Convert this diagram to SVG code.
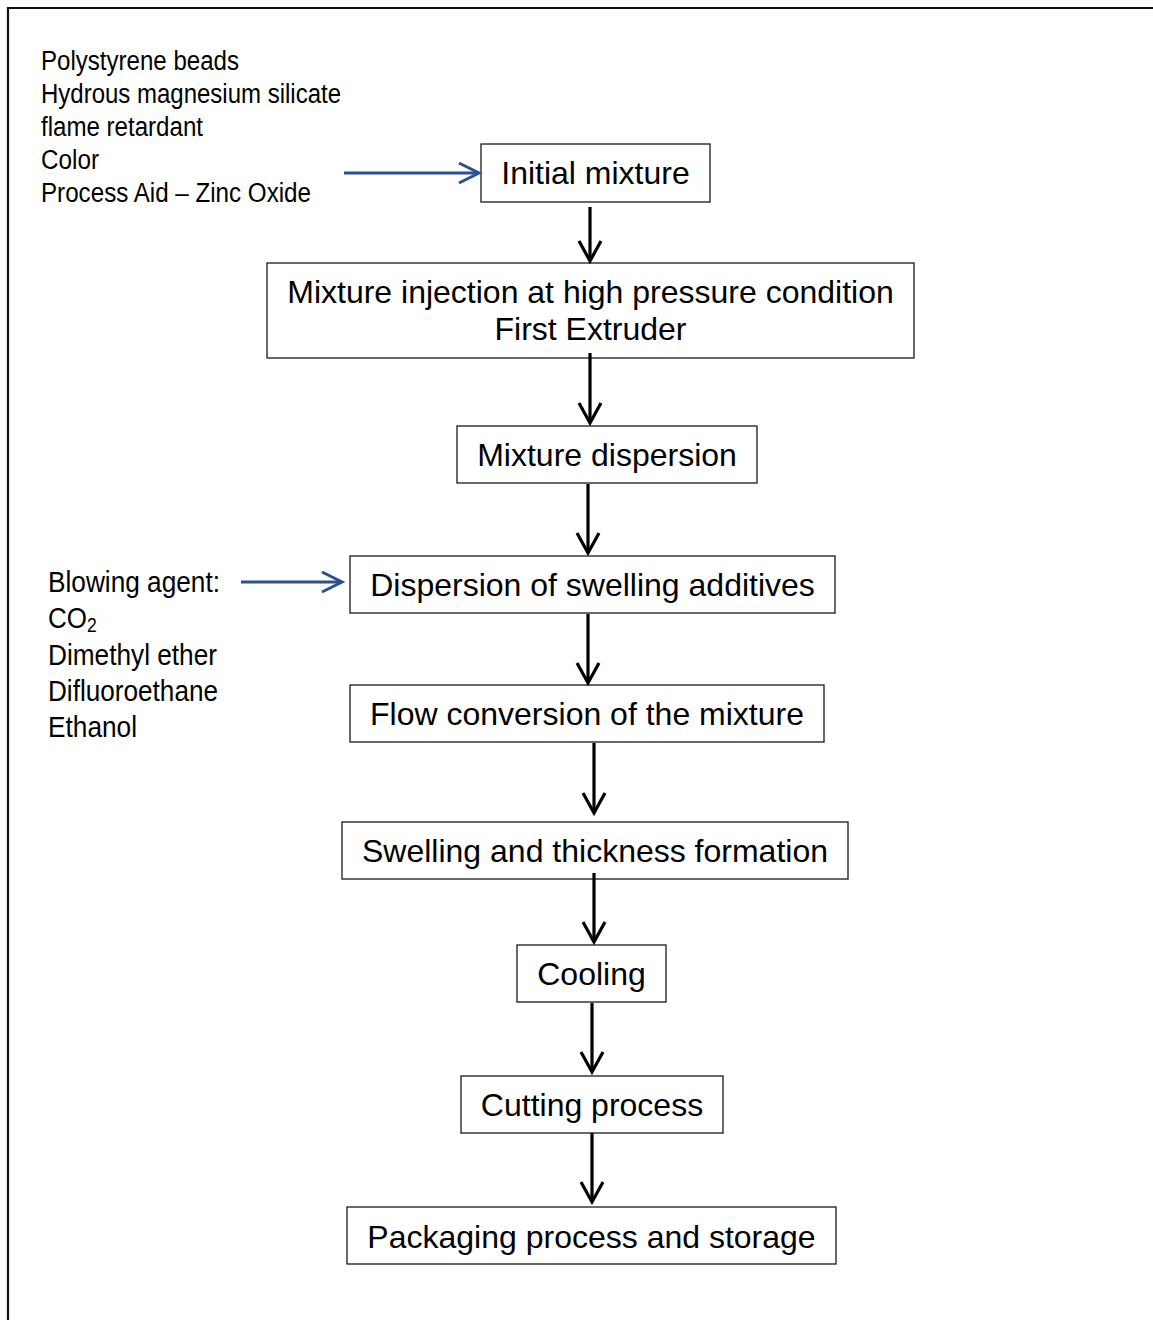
<svg xmlns="http://www.w3.org/2000/svg" width="1153" height="1320" viewBox="0 0 1153 1320">
<style>
  .box rect { fill: #fff; stroke: #1a1a1a; stroke-width: 1.3; }
  .box text { font-family: "Liberation Sans", Arial, sans-serif; font-size: 32px; fill: #000; text-anchor: middle; }
  .side { font-family: "Liberation Sans", Arial, sans-serif; font-size: 27px; fill: #000; }
  .side2 { font-family: "Liberation Sans", Arial, sans-serif; font-size: 29.5px; fill: #000; }
  .flow { stroke: #000; stroke-width: 3.2; fill: none; marker-end: url(#ah); }
  .feed { stroke: #2a5189; stroke-width: 3; fill: none; marker-end: url(#ahb); }
</style>
<defs>
  <marker id="ah" markerUnits="userSpaceOnUse" orient="auto" markerWidth="30" markerHeight="30" refX="0" refY="0" viewBox="-25 -15 30 30" overflow="visible">
    <path d="M -20 -11 L 0 0 L -20 11" fill="none" stroke="#000" stroke-width="3.2"/>
  </marker>
  <marker id="ahb" markerUnits="userSpaceOnUse" orient="auto" markerWidth="30" markerHeight="30" refX="0" refY="0" viewBox="-25 -15 30 30" overflow="visible">
    <path d="M -20 -10 L 0 0 L -20 10" fill="none" stroke="#2a5189" stroke-width="3"/>
  </marker>
</defs>
<rect width="1153" height="1320" fill="#fff"/>
<g id="frame">
  <path d="M 8 1320 L 8 8 L 1153 8" fill="none" stroke="#111" stroke-width="2.2"/>
</g>

<g id="inputs1">
  <text class="side" x="41" y="70" textLength="198" lengthAdjust="spacingAndGlyphs">Polystyrene beads</text>
  <text class="side" x="41" y="103" textLength="300" lengthAdjust="spacingAndGlyphs">Hydrous magnesium silicate</text>
  <text class="side" x="41" y="136" textLength="162" lengthAdjust="spacingAndGlyphs">flame retardant</text>
  <text class="side" x="41" y="169" textLength="58" lengthAdjust="spacingAndGlyphs">Color</text>
  <text class="side" x="41" y="202" textLength="270" lengthAdjust="spacingAndGlyphs">Process Aid – Zinc Oxide</text>
</g>

<g id="inputs2">
  <text class="side2" x="48" y="592" textLength="172" lengthAdjust="spacingAndGlyphs">Blowing agent:</text>
  <text class="side2" transform="translate(48,628) scale(0.88,1)" x="0" y="0">CO<tspan font-size="20" dy="4">2</tspan></text>
  <text class="side2" x="48" y="665" textLength="169" lengthAdjust="spacingAndGlyphs">Dimethyl ether</text>
  <text class="side2" x="48" y="701" textLength="170" lengthAdjust="spacingAndGlyphs">Difluoroethane</text>
  <text class="side2" x="48" y="737" textLength="89" lengthAdjust="spacingAndGlyphs">Ethanol</text>
</g>

<g id="n1" class="box"><rect x="481" y="144" width="229" height="58"/><text x="595.5" y="184">Initial mixture</text></g>
<g id="n2" class="box"><rect x="267" y="263" width="647" height="95"/><text x="590.5" y="303">Mixture injection at high pressure condition</text><text x="590.5" y="340">First Extruder</text></g>
<g id="n3" class="box"><rect x="457" y="426" width="300" height="57"/><text x="607" y="466">Mixture dispersion</text></g>
<g id="n4" class="box"><rect x="350" y="556" width="485" height="57"/><text x="592.5" y="596">Dispersion of swelling additives</text></g>
<g id="n5" class="box"><rect x="350" y="685" width="474" height="57"/><text x="587" y="725">Flow conversion of the mixture</text></g>
<g id="n6" class="box"><rect x="342" y="822" width="506" height="57"/><text x="595" y="862">Swelling and thickness formation</text></g>
<g id="n7" class="box"><rect x="517" y="945" width="149" height="57"/><text x="591.5" y="985">Cooling</text></g>
<g id="n8" class="box"><rect x="461" y="1076" width="262" height="57"/><text x="592" y="1116">Cutting process</text></g>
<g id="n9" class="box"><rect x="347" y="1207" width="489" height="57"/><text x="591.5" y="1248">Packaging process and storage</text></g>

<g id="connectors">
  <path class="feed" d="M 344 173 L 479 173"/>
  <path class="feed" d="M 241 582 L 342 582"/>
  <path class="flow" d="M 590 207 L 590 261"/>
  <path class="flow" d="M 590 353 L 590 423"/>
  <path class="flow" d="M 588 484 L 588 553"/>
  <path class="flow" d="M 588 614 L 588 683"/>
  <path class="flow" d="M 594 743 L 594 813"/>
  <path class="flow" d="M 594 873 L 594 942"/>
  <path class="flow" d="M 592 1003 L 592 1072"/>
  <path class="flow" d="M 592 1133 L 592 1202"/>
</g>
</svg>
